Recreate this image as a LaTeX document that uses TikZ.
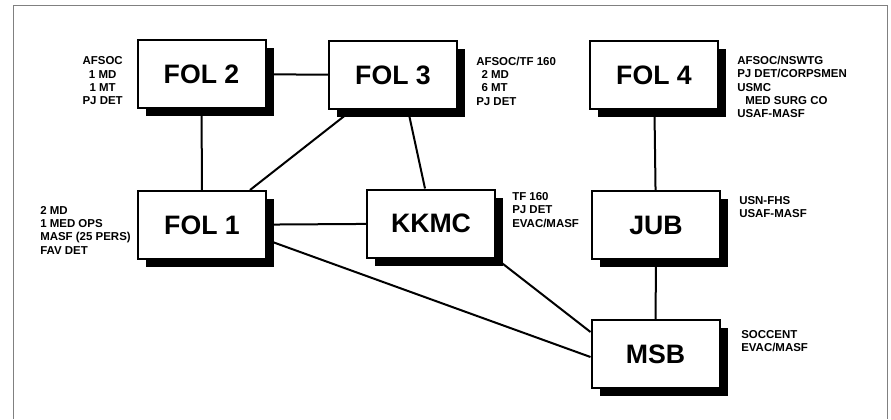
\documentclass[tikz,border=0pt]{standalone}
\usepackage{fontspec}
\setmainfont{Liberation Sans}
\usetikzlibrary{calc,shadows,positioning}

\tikzset{
  site/.style={draw,line width=1.5pt,fill=white,minimum width=96pt,minimum height=51pt,
    inner sep=0pt,font=\fontsize{20}{24}\selectfont\bfseries,
    drop shadow={shadow xshift=6pt,shadow yshift=-6pt,fill=black,opacity=1}},
  note/.style={font=\fontsize{8.6}{10}\selectfont\bfseries,inner sep=0pt},
  link/.style={line width=1.5pt}
}

\begin{document}
\begin{tikzpicture}[x=0.75pt,y=-0.75pt]
\useasboundingbox (0,0) rectangle (891,419);
% frame, open at the bottom
\draw[gray,line width=0.7pt](13,419)--(13,5)--(887,5)--(887,419);
% sites
\node[site](fol2) at (201.5,74) {FOL 2};
\node[site](fol3) at (393,75) {FOL 3};
\node[site](fol4) at (654,75) {FOL 4};
\node[site](fol1) at (202,225) {FOL 1};
\node[site](kkmc) at (431,223.5) {KKMC};
\node[site](jub) at (656,225) {JUB};
\node[site](msb) at (655.5,354) {MSB};
% links
\draw[link](fol2)--(fol3);
\draw[link](fol2)--(fol1);
\draw[link]($(fol3.south)+(-41,0)$)--($(fol1.north east)+(-17,0)$);
\draw[link]($(fol3.south)+(15,0)$)--($(kkmc.north)+(-6,0)$);
\draw[link](fol1)--(kkmc);
\draw[link]($(fol1.east)+(0,15)$)--($(msb.west)+(0,3)$);
\draw[link](kkmc.south east)--($(msb.west)+(0,-22)$);
\draw[link](fol4)--(jub);
\draw[link](jub)--(msb);
% units at each site
\node[note,align=center,anchor=east](fol2u) at (123,81)
  {AFSOC\\1 MD\\1 MT\\PJ DET};
\node[note,align=left,anchor=west](fol3u) at (476,81)
  {AFSOC/TF 160\\\hspace*{4pt}2 MD\\\hspace*{4pt}6 MT\\PJ DET};
\node[note,align=left,anchor=west](fol4u) at (737,87)
  {AFSOC/NSWTG\\PJ DET/CORPSMEN\\USMC\\\hspace*{6pt}MED SURG CO\\USAF-MASF};
\node[note,align=left,anchor=west](fol1u) at (40,230)
  {2 MD\\1 MED OPS\\MASF (25 PERS)\\FAV DET};
\node[note,align=left,anchor=west](kkmcu) at (512,210)
  {TF 160\\PJ DET\\EVAC/MASF};
\node[note,align=left,anchor=west](jubu) at (739,207)
  {USN-FHS\\USAF-MASF};
\node[note,align=left,anchor=west](msbu) at (741,341)
  {SOCCENT\\EVAC/MASF};
\end{tikzpicture}
\end{document}
